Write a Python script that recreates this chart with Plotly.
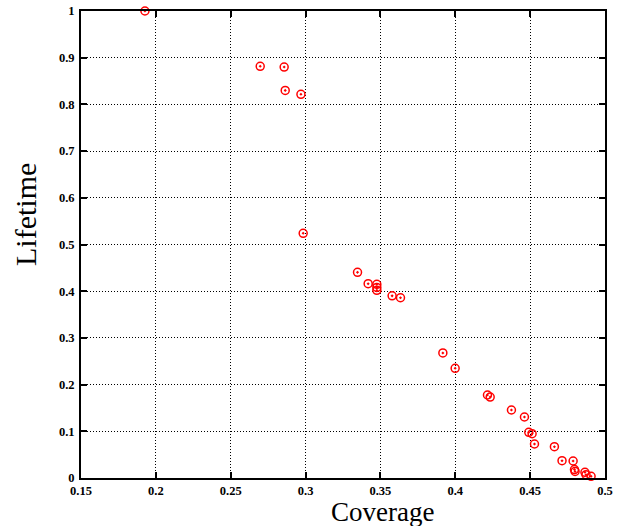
import plotly.graph_objects as go

coverage = [0.1927, 0.2697, 0.2857, 0.2864, 0.2969, 0.2984, 0.3347, 0.3418, 0.3476, 0.3476,
            0.3476, 0.3578, 0.3634, 0.3917, 0.3999, 0.4215, 0.4233, 0.4375, 0.4462, 0.4491,
            0.4513, 0.4529, 0.4662, 0.4713, 0.4787, 0.4796, 0.4800, 0.4866, 0.4873, 0.4907]
lifetime = [1.0, 0.8816, 0.880, 0.830, 0.8216, 0.524, 0.4404, 0.416, 0.4147, 0.408,
            0.402, 0.390, 0.386, 0.2677, 0.2349, 0.1777, 0.1734, 0.1456, 0.1306, 0.0978,
            0.0949, 0.0728, 0.067, 0.037, 0.0364, 0.018, 0.014, 0.0122, 0.007, 0.0036]

x_ticks = [0.15, 0.2, 0.25, 0.3, 0.35, 0.4, 0.45, 0.5]
x_labels = ["0.15", "0.2", "0.25", "0.3", "0.35", "0.4", "0.45", "0.5"]
y_ticks = [0, 0.1, 0.2, 0.3, 0.4, 0.5, 0.6, 0.7, 0.8, 0.9, 1]
y_labels = ["0", "0.1", "0.2", "0.3", "0.4", "0.5", "0.6", "0.7", "0.8", "0.9", "1"]
x_title = "Coverage"
y_title = "Lifetime"

fig = go.Figure()
fig.add_trace(go.Scatter(
    x=coverage, y=lifetime, mode="markers",
    marker=dict(symbol="circle-open-dot", size=8, color="#ff0000",
                line=dict(color="#ff0000", width=1.5)),
    cliponaxis=False, showlegend=False, hoverinfo="skip",
))

axis_common = dict(
    showline=True, linecolor="black", linewidth=2, mirror="ticks",
    ticks="inside", ticklen=6, tickwidth=2, tickcolor="black",
    showgrid=True, gridcolor="black", gridwidth=1, griddash="1px,2px",
    zeroline=False, automargin=False,
    tickfont=dict(family="Liberation Serif", size=12.5, color="black", weight="bold"),
)

fig.update_xaxes(range=[0.15, 0.5], tickvals=x_ticks, ticktext=x_labels, **axis_common)
fig.update_yaxes(range=[0, 1], tickvals=y_ticks, ticktext=y_labels, ticklabelstandoff=2, **axis_common)

fig.add_annotation(text=x_title, xref="paper", yref="paper",
                   x=(382 - 81) / 524, y=(478 - 511.5) / 467,
                   xanchor="center", yanchor="middle", showarrow=False, borderpad=0,
                   font=dict(family="Liberation Serif", size=27, color="black"))
fig.add_annotation(text=y_title, xref="paper", yref="paper",
                   x=(26 - 81) / 524, y=(478 - 215) / 467, textangle=-90,
                   xanchor="center", yanchor="middle", showarrow=False,
                   font=dict(family="Liberation Serif", size=30, color="black"))

fig.update_layout(
    width=618, height=526,
    margin=dict(l=81, r=13, t=11, b=48),
    paper_bgcolor="white", plot_bgcolor="white",
    font=dict(family="Liberation Serif", color="black"),
)

fig.write_html("out.html", config={"displayModeBar": False},
               post_script="document.body.style.margin='0px';")
